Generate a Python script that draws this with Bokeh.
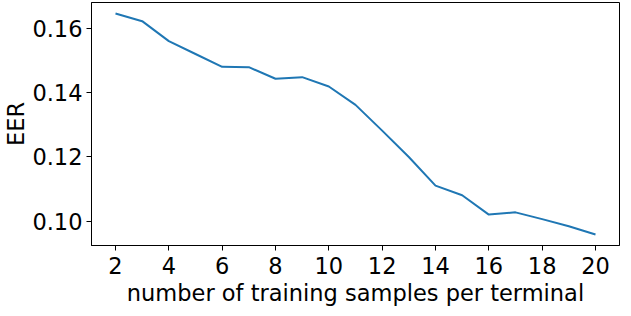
from bokeh.plotting import figure
from bokeh.models import Range1d, FixedTicker, NumeralTickFormatter
from bokeh.embed import file_html
from bokeh.resources import INLINE

samples = [2, 3, 4, 5, 6, 7, 8, 9, 10, 11, 12, 13, 14, 15, 16, 17, 18, 19, 20]
eer = [0.1646, 0.1622, 0.1560, 0.1520, 0.1480, 0.1479, 0.1443, 0.1448, 0.1419,
       0.1362, 0.1282, 0.1200, 0.1111, 0.1081, 0.1021, 0.1028, 0.1007, 0.0985, 0.0959]
x_ticks = [2, 4, 6, 8, 10, 12, 14, 16, 18, 20]
y_ticks = [0.10, 0.12, 0.14, 0.16]
x_title = "number of training samples per terminal"
y_title = "EER"

FONT = "DejaVu Sans"
FS = "22.5px"

p = figure(width=623, height=308, output_backend="svg", toolbar_location=None,
           x_range=Range1d(1.1, 20.9), y_range=Range1d(0.0925, 0.1680),
           min_border_left=86, min_border_right=4, min_border_top=2, min_border_bottom=61)

p.line(samples, eer, line_color="#1f77b4", line_width=2)

p.outline_line_color = "black"
p.outline_line_width = 1
p.xgrid.visible = False
p.ygrid.visible = False

for ax in (p.xaxis[0], p.yaxis[0]):
    ax.major_label_text_font = FONT
    ax.major_label_text_font_size = FS
    ax.major_label_text_color = "black"
    ax.major_label_text_line_height = 1.0
    ax.axis_label_text_font = FONT
    ax.axis_label_text_font_size = FS
    ax.axis_label_text_font_style = "normal"
    ax.axis_label_text_color = "black"
    ax.axis_label_text_line_height = 1.0
    ax.major_tick_in = 0
    ax.major_tick_out = 5
    ax.major_tick_line_color = "black"
    ax.minor_tick_line_color = None
    ax.axis_line_color = "black"

p.xaxis.ticker = FixedTicker(ticks=x_ticks)
p.yaxis.ticker = FixedTicker(ticks=y_ticks)
p.yaxis.formatter = NumeralTickFormatter(format="0.00")
p.xaxis.axis_label = x_title
p.yaxis.axis_label = y_title
p.xaxis.major_label_standoff = 6
p.yaxis.major_label_standoff = 4
p.xaxis.axis_label_standoff = 3
p.yaxis.axis_label_standoff = 0

open("out.html", "w").write(file_html(p, INLINE))
